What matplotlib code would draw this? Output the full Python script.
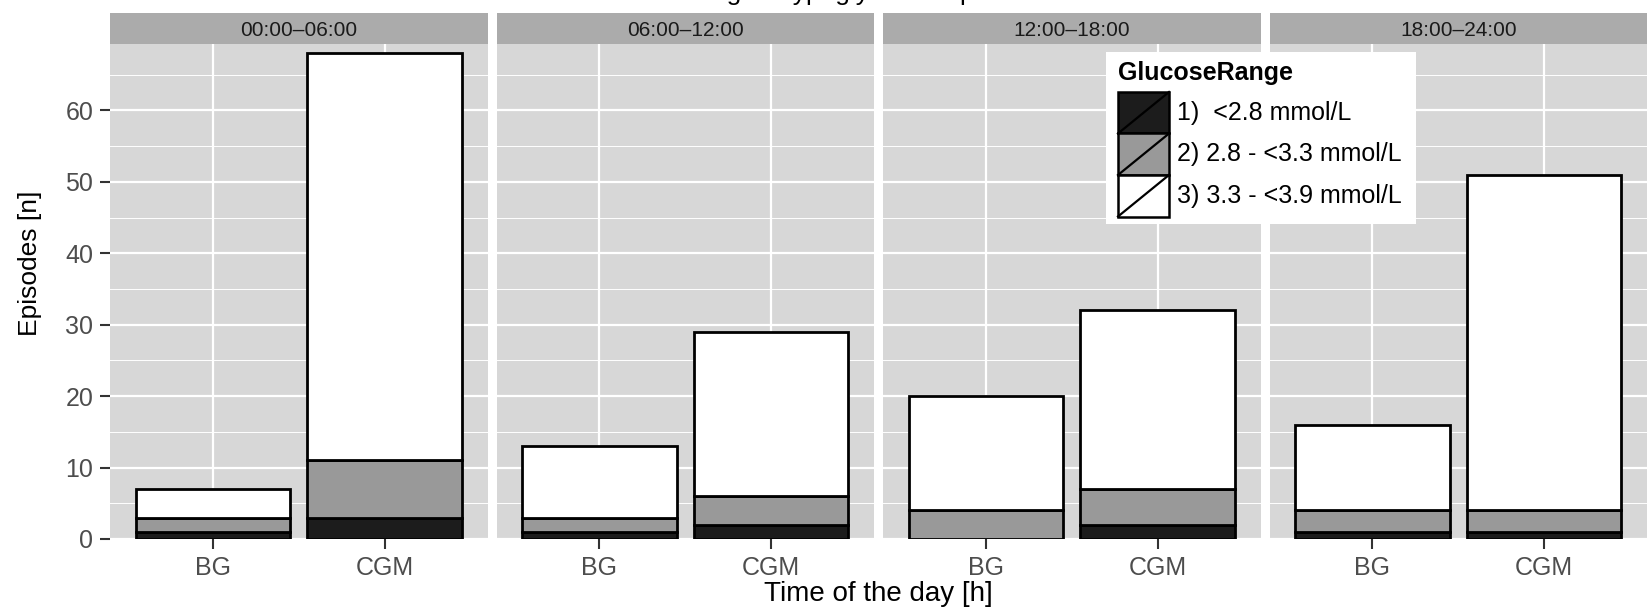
import numpy as np
import matplotlib
matplotlib.use("Agg")
import matplotlib.pyplot as plt
from matplotlib.patches import Rectangle
from matplotlib.lines import Line2D
from matplotlib.ticker import MultipleLocator

plt.rcParams["font.family"] = ["Liberation Sans", "DejaVu Sans"]

# ---- data ----
periods = ["00:00\u201306:00", "06:00\u201312:00", "12:00\u201318:00", "18:00\u201324:00"]
methods = ["BG", "CGM"]
ranges = ["1)  <2.8 mmol/L", "2) 2.8 - <3.3 mmol/L", "3) 3.3 - <3.9 mmol/L"]
# episodes per glucose range, one row per period, columns = BG, CGM
below_28 = [[1, 3], [1, 2], [0, 2], [1, 1]]
from_28_to_33 = [[2, 8], [2, 4], [4, 5], [3, 3]]
from_33_to_39 = [[4, 57], [10, 23], [16, 25], [12, 47]]

colors = ["#1c1c1c", "#999999", "#ffffff"]
PANEL_BG = "#d7d7d7"
STRIP_BG = "#ababab"

W, H = 1647, 611
fig, axes = plt.subplots(1, 4, figsize=(W / 100, H / 100), dpi=100, sharey=True)
fig.subplots_adjust(left=110 / W, right=1.0, bottom=1 - 539 / H, top=1 - 44 / H,
                    wspace=9 / 377.5)

x = np.arange(1, len(methods) + 1)
stacks = [below_28, from_28_to_33, from_33_to_39]

for i, ax in enumerate(axes):
    ax.set_facecolor(PANEL_BG)
    bottom = np.zeros(len(methods))
    for vals, c in zip(stacks, colors):
        v = np.array(vals[i], dtype=float)
        ax.bar(x, v, width=0.9, bottom=bottom, color=c, edgecolor="black",
               linewidth=2.0, zorder=3)
        bottom += v
    ax.set_xlim(0.4, 2.6)
    ax.set_ylim(0, 69.3)
    ax.set_xticks(x)
    ax.set_xticklabels(methods)
    ax.yaxis.set_major_locator(MultipleLocator(10))
    ax.yaxis.set_minor_locator(MultipleLocator(5))
    ax.grid(which="major", color="white", linewidth=1.6, zorder=0)
    ax.grid(which="minor", axis="y", color="white", linewidth=0.7, zorder=0)
    ax.set_axisbelow(True)
    for s in ax.spines.values():
        s.set_visible(False)
    ax.tick_params(axis="both", which="major", length=7, width=1.5, color="#333333",
                   labelsize=18, labelcolor="#4d4d4d", pad=5)
    ax.tick_params(axis="both", which="minor", length=0)
    if i > 0:
        ax.tick_params(axis="y", left=False)

    # facet strip
    pos = ax.get_position()
    sax = fig.add_axes([pos.x0, pos.y1, pos.width, 31 / H])
    sax.set_facecolor(STRIP_BG)
    sax.set_xticks([]); sax.set_yticks([])
    for s in sax.spines.values():
        s.set_visible(False)
    sax.text(0.5, 0.45, periods[i], ha="center", va="center", fontsize=15,
             color="#1a1a1a", transform=sax.transAxes)

fig.text(0.5335, 1 - 594 / H, "Time of the day [h]", ha="center", va="center",
         fontsize=20)
fig.text(30 / W, 1 - 263 / H, "Episodes [n]", ha="center", va="center", rotation=90,
         fontsize=19)

# title is cut off at the top edge in the reference; only descenders show
fig.text(0.52, 1.0, "Timing of hypoglycemic episodes", ha="center",
         va="baseline", fontsize=19)

# ---- legend box drawn by hand (keys with diagonal slash) ----
lax = fig.add_axes([1106 / W, 1 - 224 / H, 310 / W, 172 / H])
lax.set_xlim(0, 310)
lax.set_ylim(172, 0)
lax.set_facecolor("white")
lax.set_xticks([]); lax.set_yticks([])
for s in lax.spines.values():
    s.set_visible(False)
lax.text(12, 21, "GlucoseRange", fontsize=18, fontweight="bold", va="center", ha="left")
key_top = 40
key_h = 41.5
for j, (lab, c) in enumerate(zip(ranges, colors)):
    y0 = key_top + j * key_h
    lax.add_patch(Rectangle((12, y0), 51, key_h, facecolor=c, edgecolor="black",
                            linewidth=1.8))
    lax.add_line(Line2D([12, 63], [y0 + key_h, y0], color="black", linewidth=1.6))
    lax.text(71, y0 + key_h / 2, lab, fontsize=18, va="center", ha="left")

fig.savefig("out.png", dpi=100)
